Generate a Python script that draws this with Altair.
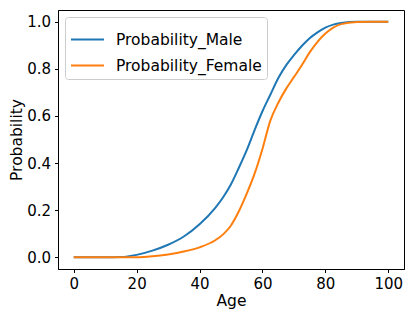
import altair as alt
import pandas as pd

ages = [0, 5, 10, 15, 20, 25, 30, 35, 40, 45, 47.5, 50, 52.5, 55, 57.5, 60, 62.5, 65,
        67.5, 70, 72.5, 75, 77.5, 80, 82.5, 85, 90, 95, 100]
prob_male = [0.0, 0.0, 0.0, 0.001, 0.01, 0.028, 0.053, 0.088, 0.14, 0.21, 0.255, 0.31,
             0.38, 0.455, 0.54, 0.62, 0.69, 0.76, 0.815, 0.858, 0.897, 0.93, 0.955, 0.975,
             0.988, 0.995, 1.0, 1.0, 1.0]
prob_female = [0.0, 0.0, 0.0, 0.0, 0.0, 0.004, 0.012, 0.024, 0.042, 0.072, 0.097, 0.135,
               0.195, 0.27, 0.355, 0.46, 0.58, 0.655, 0.715, 0.765, 0.815, 0.87, 0.915,
               0.95, 0.975, 0.99, 0.999, 1.0, 1.0]
series = ["Probability_Male", "Probability_Female"]
colors = ["#1f77b4", "#ff7f0e"]
x_ticks = [0, 20, 40, 60, 80, 100]
y_ticks = [0.0, 0.2, 0.4, 0.6, 0.8, 1.0]

rows = []
for s, vals in zip(series, [prob_male, prob_female]):
    for a, v in zip(ages, vals):
        rows.append({"Age": a, "Probability": v, "series": s})
df = pd.DataFrame(rows)

FONT = "DejaVu Sans"

chart = alt.Chart(df).mark_line(strokeWidth=2, interpolate="monotone").encode(
    x=alt.X("Age:Q",
            scale=alt.Scale(domain=[-5, 105], nice=False, zero=False),
            axis=alt.Axis(values=x_ticks, format="d", title="Age", grid=False,
                          tickSize=3.5, labelPadding=4, titlePadding=2,
                          labelFontSize=15, titleFontSize=15.5)),
    y=alt.Y("Probability:Q",
            scale=alt.Scale(domain=[-0.05, 1.05], nice=False, zero=False),
            axis=alt.Axis(values=y_ticks, format=".1f", title="Probability", grid=False,
                          tickSize=3.5, labelPadding=4, titlePadding=2,
                          labelFontSize=15, titleFontSize=15.5)),
    color=alt.Color("series:N",
                    scale=alt.Scale(domain=series, range=colors),
                    sort=series,
                    legend=alt.Legend(title=None, orient="top-left", offset=7,
                                      fillColor="rgba(255,255,255,0.8)",
                                      strokeColor="#cccccc", cornerRadius=3,
                                      padding=5, symbolType="stroke",
                                      symbolSize=1089, symbolStrokeWidth=2,
                                      labelFontSize=15.5, labelOffset=11,
                                      rowPadding=-10, labelColor="black")),
).properties(
    width=346, height=259,
    autosize=alt.AutoSizeParams(type="none"),
    padding={"left": 50, "top": 2, "right": 3, "bottom": 40},
).configure(
    font=FONT,
).configure_axis(
    domainColor="black", tickColor="black", labelColor="black", titleColor="black",
    titleFontWeight="normal", labelFont=FONT, titleFont=FONT, domainWidth=1, tickWidth=1,
).configure_legend(
    labelFont=FONT,
).configure_view(
    stroke="black", strokeWidth=1,
)

chart.save("out.html", embed_options={"renderer": "svg", "actions": False})
